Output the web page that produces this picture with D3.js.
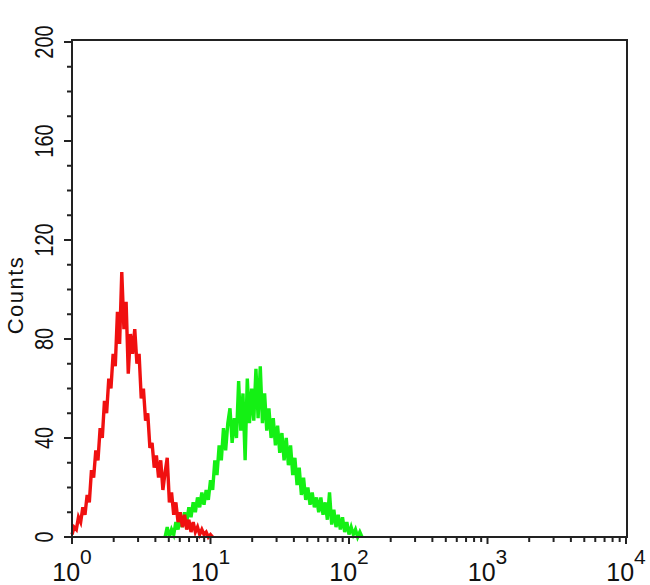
<!DOCTYPE html>
<html>
<head>
<meta charset="utf-8">
<script src="https://cdn.jsdelivr.net/npm/d3@7"></script>
<style>
  body { margin: 0; background: #fff; }
  svg { display: block; font-family: "Liberation Sans", Arial, sans-serif; }
</style>
</head>
<body>
<svg id="chart" width="650" height="585"></svg>
<script>
// histogram channels, 64 per decade, log scale 10^0..10^4
const channelsPerDecade = 64
const redFirstChannel = 0
const greenFirstChannel = 43

const redCounts = [
  1, 4, 3, 8, 6, 12, 9, 17, 14, 27, 24, 35, 31, 44, 40, 55, 50, 64, 60, 74,
  69, 91, 78, 107, 84, 95, 66, 82, 74, 84, 70, 74, 56, 60, 47, 50, 36, 38, 28, 33,
  24, 31, 19, 26, 32, 14, 18, 9, 14, 6, 10, 4, 9, 3, 7, 2, 6, 2, 4, 1,
  3, 1, 2, 0, 1, 0
]

const greenCounts = [
  0, 4, 0, 3, 1, 6, 3, 8, 4, 10, 6, 12, 8, 14, 10, 16, 12, 18, 13, 19,
  15, 23, 19, 31, 25, 37, 31, 44, 35, 46, 52, 38, 48, 40, 63, 43, 58, 31, 64, 46,
  60, 47, 68, 48, 69, 46, 58, 43, 52, 40, 48, 37, 45, 34, 42, 31, 40, 29, 37, 25,
  32, 21, 28, 17, 24, 15, 20, 13, 18, 12, 16, 10, 16, 9, 14, 7, 18, 5, 11, 4,
  9, 3, 8, 2, 6, 1, 4, 1, 3, 0, 2, 0
]

const yTicks = [0, 40, 80, 120, 160, 200]
const xDecades = [0, 1, 2, 3, 4]

const plotLeft = 72
const plotRight = 626
const plotTop = 41
const plotBottom = 537

const svg = d3.select('#chart')

const x = d3.scaleLog().domain([1, 10000]).range([plotLeft, plotRight])
const y = d3.scaleLinear().domain([0, 200]).range([plotBottom, 42])

function toPoints (counts, first) {
  return counts.map(function (c, i) {
    return [Math.pow(10, (first + i) / channelsPerDecade), c]
  })
}

const line = d3.line()
  .x(function (d) { return x(d[0]) })
  .y(function (d) { return y(d[1]) })

svg.append('path')
  .datum(toPoints(greenCounts, greenFirstChannel))
  .attr('d', line)
  .attr('fill', 'none')
  .attr('stroke', '#14f014')
  .attr('stroke-width', 3.4)

svg.append('path')
  .datum(toPoints(redCounts, redFirstChannel))
  .attr('d', line)
  .attr('fill', 'none')
  .attr('stroke', '#f01010')
  .attr('stroke-width', 3.4)

// frame
svg.append('rect')
  .attr('x', plotLeft)
  .attr('y', plotTop - 1)
  .attr('width', plotRight + 1 - plotLeft)
  .attr('height', plotBottom - plotTop + 1)
  .attr('fill', 'none')
  .attr('stroke', '#222')
  .attr('stroke-width', 2)

// y ticks
const yMinor = d3.range(0, 201, 10)
svg.selectAll('.ytick')
  .data(yMinor)
  .enter().append('line')
  .attr('x1', plotLeft)
  .attr('x2', function (d) { return d % 40 === 0 ? plotLeft - 8 : plotLeft - 5 })
  .attr('y1', function (d) { return y(d) })
  .attr('y2', function (d) { return y(d) })
  .attr('stroke', '#222')
  .attr('stroke-width', 2)

svg.selectAll('.ylabel')
  .data(yTicks)
  .enter().append('text')
  .attr('transform', function (d) { return 'translate(53,' + y(d) + ') rotate(-90) scale(0.8,1)' })
  .attr('text-anchor', 'middle')
  .attr('font-size', 25)
  .attr('fill', '#111')
  .text(function (d) { return d })

svg.append('text')
  .attr('transform', 'translate(23,295) rotate(-90)')
  .attr('text-anchor', 'middle')
  .attr('font-size', 22)
  .attr('letter-spacing', 1.5)
  .attr('fill', '#111')
  .text('Counts')

// x ticks
const xMinor = []
xDecades.slice(0, -1).forEach(function (p) {
  for (let k = 2; k <= 9; k++) xMinor.push(k * Math.pow(10, p))
})

svg.selectAll('.xminor')
  .data(xMinor)
  .enter().append('line')
  .attr('x1', function (d) { return x(d) })
  .attr('x2', function (d) { return x(d) })
  .attr('y1', plotBottom)
  .attr('y2', plotBottom + 5)
  .attr('stroke', '#222')
  .attr('stroke-width', 2)

svg.selectAll('.xmajor')
  .data(xDecades)
  .enter().append('line')
  .attr('x1', function (d) { return x(Math.pow(10, d)) })
  .attr('x2', function (d) { return x(Math.pow(10, d)) })
  .attr('y1', plotBottom)
  .attr('y2', plotBottom + 7)
  .attr('stroke', '#222')
  .attr('stroke-width', 2)

const xl = svg.selectAll('.xlabel')
  .data(xDecades)
  .enter().append('text')
  .attr('x', function (d) { return x(Math.pow(10, d)) })
  .attr('y', 581)
  .attr('text-anchor', 'middle')
  .attr('fill', '#111')
xl.append('tspan').attr('font-size', 25).text('10')
xl.append('tspan').attr('font-size', 21).attr('dy', -17).text(function (d) { return d })
</script>
</body>
</html>
